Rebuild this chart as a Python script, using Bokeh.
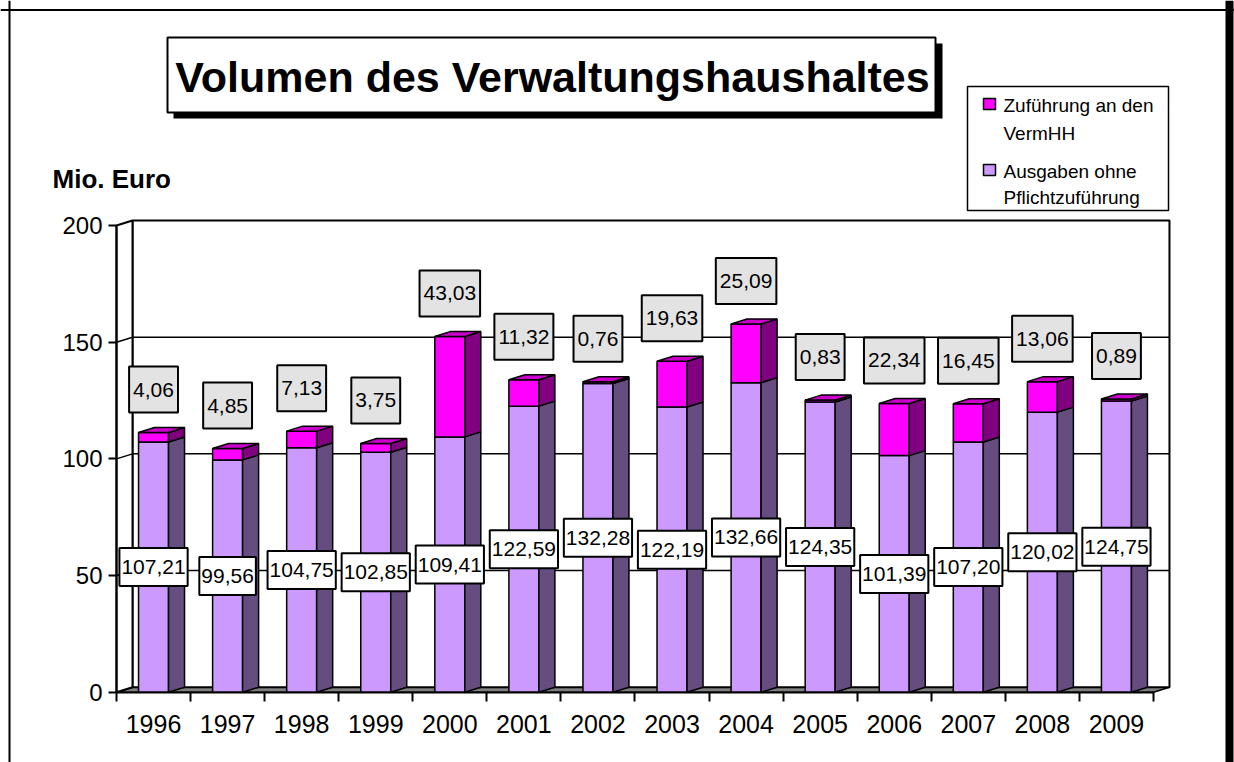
from bokeh.plotting import figure
from bokeh.models import (Range1d, LinearAxis, FixedTicker, ColumnDataSource,
                          Label, BoxAnnotation, Span)
from bokeh.embed import file_html
from bokeh.resources import INLINE
from bokeh.core.properties import value

# ---------------- data ----------------
years = ["1996", "1997", "1998", "1999", "2000", "2001", "2002",
         "2003", "2004", "2005", "2006", "2007", "2008", "2009"]
ausgaben = [107.21, 99.56, 104.75, 102.85, 109.41, 122.59, 132.28,
            122.19, 132.66, 124.35, 101.39, 107.20, 120.02, 124.75]
zufuehrung = [4.06, 4.85, 7.13, 3.75, 43.03, 11.32, 0.76,
              19.63, 25.09, 0.83, 22.34, 16.45, 13.06, 0.89]
y_ticks = [0, 50, 100, 150, 200]
title_text = "Volumen des Verwaltungshaushaltes"
y_title = "Mio. Euro"
legend_lines = [["Zuführung an den", "VermHH"], ["Ausgaben ohne", "Pflichtzuführung"]]

# ---------------- layout (page pixels) ----------------
W, H = 1234, 762
PAGE_OFF = 0
AX_X0 = 116.0      # page x of front y-axis
AX_Y0 = 691.7      # page y of value 0
PXX = 74.07        # px per category
PXY = 2.3335       # px per unit value
DEPTH_X, DEPTH_Y = 16.0, 5.0
BAR_PX = 30.0
LABEL_GAP_PX = 43.0

def X(px):
    return (px - AX_X0) / PXX

def Y(py):
    return (AX_Y0 - py) / PXY

DX = DEPTH_X / PXX
DY = DEPTH_Y / PXY
BW = BAR_PX / PXX
n = len(years)
ymax = y_ticks[-1]

FONT = "Liberation Sans"

C_PUR, C_PUR_SIDE = "#cc99ff", "#654e7f"
C_MAG, C_MAG_SIDE, C_TOP = "#ff00ff", "#800080", "#cc00cc"

p = figure(width=W, height=H, output_backend="svg", toolbar_location=None,
           x_range=Range1d(X(PAGE_OFF), X(PAGE_OFF + W)),
           y_range=Range1d(Y(PAGE_OFF + H), Y(PAGE_OFF)),
           x_axis_location=None, y_axis_location=None, min_border=0)
p.outline_line_color = None
p.xgrid.visible = False
p.ygrid.visible = False
p.background_fill_color = "white"
p.border_fill_color = "white"

# ---------------- walls & floor ----------------
p.patch([0, n, n + DX, DX], [0, 0, DY, DY], fill_color="#808080",
        line_color="black", line_width=1.5)
p.patch([DX, n + DX, n + DX, DX], [DY, DY, ymax + DY, ymax + DY],
        fill_color="white", line_color="black", line_width=2)
p.patch([0, DX, DX, 0], [0, DY, ymax + DY, ymax],
        fill_color="white", line_color="black", line_width=2)
grid_vals = y_ticks[1:-1]
p.multi_line([[0, DX, n + DX] for v in grid_vals],
             [[v, v + DY, v + DY] for v in grid_vals],
             line_color="black", line_width=1.5)

# ---------------- 3D stacked bars ----------------
cx = [i + 0.5 for i in range(n)]
tops = [a + z for a, z in zip(ausgaben, zufuehrung)]
lefts = [c - BW / 2 for c in cx]
rights = [c + BW / 2 for c in cx]

def side(b, t):
    xs = [[r, r + DX, r + DX, r] for r in rights]
    ys = [[bb, bb + DY, tt + DY, tt] for bb, tt in zip(b, t)]
    return xs, ys

zeros = [0] * n
p.quad(left=lefts, right=rights, bottom=zeros, top=ausgaben,
       fill_color=C_PUR, line_color="black", line_width=1.5)
xs, ys = side(zeros, ausgaben)
p.patches(xs, ys, fill_color=C_PUR_SIDE, line_color="black", line_width=1.5)
p.quad(left=lefts, right=rights, bottom=ausgaben, top=tops,
       fill_color=C_MAG, line_color="black", line_width=1.5)
xs, ys = side(ausgaben, tops)
p.patches(xs, ys, fill_color=C_MAG_SIDE, line_color="black", line_width=1.5)
p.patches([[l, r, r + DX, l + DX] for l, r in zip(lefts, rights)],
          [[t, t, t + DY, t + DY] for t in tops],
          fill_color=C_TOP, line_color="black", line_width=1.5)

# ---------------- axes ----------------
yaxis = LinearAxis(fixed_location=0, ticker=FixedTicker(ticks=y_ticks, minor_ticks=[]),
                   bounds=(0, ymax))
yaxis.major_tick_out = 8
yaxis.major_tick_in = 0
yaxis.minor_tick_out = 0
yaxis.axis_line_width = 2
yaxis.major_tick_line_width = 2
yaxis.major_label_standoff = 6
yaxis.major_label_text_font = FONT
yaxis.major_label_text_font_size = "24px"
yaxis.major_label_text_color = "black"
p.add_layout(yaxis, "left")

xaxis = LinearAxis(fixed_location=0, ticker=FixedTicker(ticks=list(range(n + 1)), minor_ticks=[]),
                   bounds=(0, n))
xaxis.major_tick_out = 9
xaxis.major_tick_in = 0
xaxis.minor_tick_out = 0
xaxis.axis_line_width = 2
xaxis.major_tick_line_width = 2
xaxis.major_label_text_alpha = 0
p.add_layout(xaxis, "below")

xlab = LinearAxis(fixed_location=0, ticker=FixedTicker(ticks=cx, minor_ticks=[]))
xlab.major_label_overrides = {c: y for c, y in zip(cx, years)}
xlab.axis_line_color = None
xlab.major_tick_line_color = None
xlab.major_tick_out = 0
xlab.major_tick_in = 0
xlab.minor_tick_out = 0
xlab.major_label_standoff = 23
xlab.major_label_text_font = FONT
xlab.major_label_text_font_size = "25px"
xlab.major_label_text_color = "black"
p.add_layout(xlab, "below")

# ---------------- value labels ----------------
def fmt(v):
    return f"{v:.2f}".replace(".", ",")

low_src = ColumnDataSource(dict(x=cx, y=[a / 2 for a in ausgaben],
                                txt=[fmt(a) for a in ausgaben]))
p.text(x="x", y="y", text="txt", source=low_src, text_align="center",
       text_baseline="middle", text_font=value(FONT), text_font_size="21px",
       text_color="black", background_fill_color="white",
       border_line_color="black", border_line_width=2,
       padding=dict(left=2, right=2, top=12, bottom=12))

up_src = ColumnDataSource(dict(x=cx, y=[t + LABEL_GAP_PX / PXY for t in tops],
                               txt=[fmt(z) for z in zufuehrung]))
p.text(x="x", y="y", text="txt", source=up_src, text_align="center",
       text_baseline="middle", text_font=value(FONT), text_font_size="21px",
       text_color="black", background_fill_color="#e3e3e3",
       border_line_color="black", border_line_width=2,
       padding=dict(left=4, right=4, top=16, bottom=16))

# ---------------- title box ----------------
p.add_layout(BoxAnnotation(left=X(173), right=X(942), top=Y(43), bottom=Y(118),
                           fill_color="black", fill_alpha=1, line_color=None))
p.add_layout(BoxAnnotation(left=X(167), right=X(935), top=Y(37), bottom=Y(112),
                           fill_color="white", fill_alpha=1, line_color="black",
                           line_alpha=1, line_width=2))
p.add_layout(Label(x=X(552), y=Y(76), text=title_text, text_align="center",
                   text_baseline="middle", text_font=FONT, text_font_style="bold",
                   text_font_size="43px", text_color="black"))

p.add_layout(Label(x=X(52), y=Y(178), text=y_title, text_align="left",
                   text_baseline="middle", text_font=FONT, text_font_style="bold",
                   text_font_size="26px", text_color="black"))

# ---------------- legend ----------------
p.add_layout(BoxAnnotation(left=X(967), right=X(1168), top=Y(86), bottom=Y(210),
                           fill_color="white", fill_alpha=1, line_color="black",
                           line_alpha=1, line_width=1.5))
legend_colors = [C_MAG, C_PUR]
sq_y = [98, 164]
line_y = [[105, 133], [171, 197]]
for col, sy, lines, ly in zip(legend_colors, sq_y, legend_lines, line_y):
    p.add_layout(BoxAnnotation(left=X(983), right=X(995), top=Y(sy), bottom=Y(sy + 11),
                               fill_color=col, fill_alpha=1, line_color="black",
                               line_alpha=1, line_width=1.5))
    for t, yy in zip(lines, ly):
        p.add_layout(Label(x=X(1003), y=Y(yy), text=t, text_align="left",
                           text_baseline="middle", text_font=FONT,
                           text_font_size="19px", text_color="black"))

# ---------------- outer frame ----------------
p.add_layout(Span(location=X(9), dimension="height", line_color="black", line_width=2))
p.add_layout(Span(location=Y(9.5), dimension="width", line_color="black", line_width=2))
p.add_layout(Span(location=X(1229), dimension="height", line_color="black", line_width=8))

open("out.html", "w").write(file_html(p, INLINE))
